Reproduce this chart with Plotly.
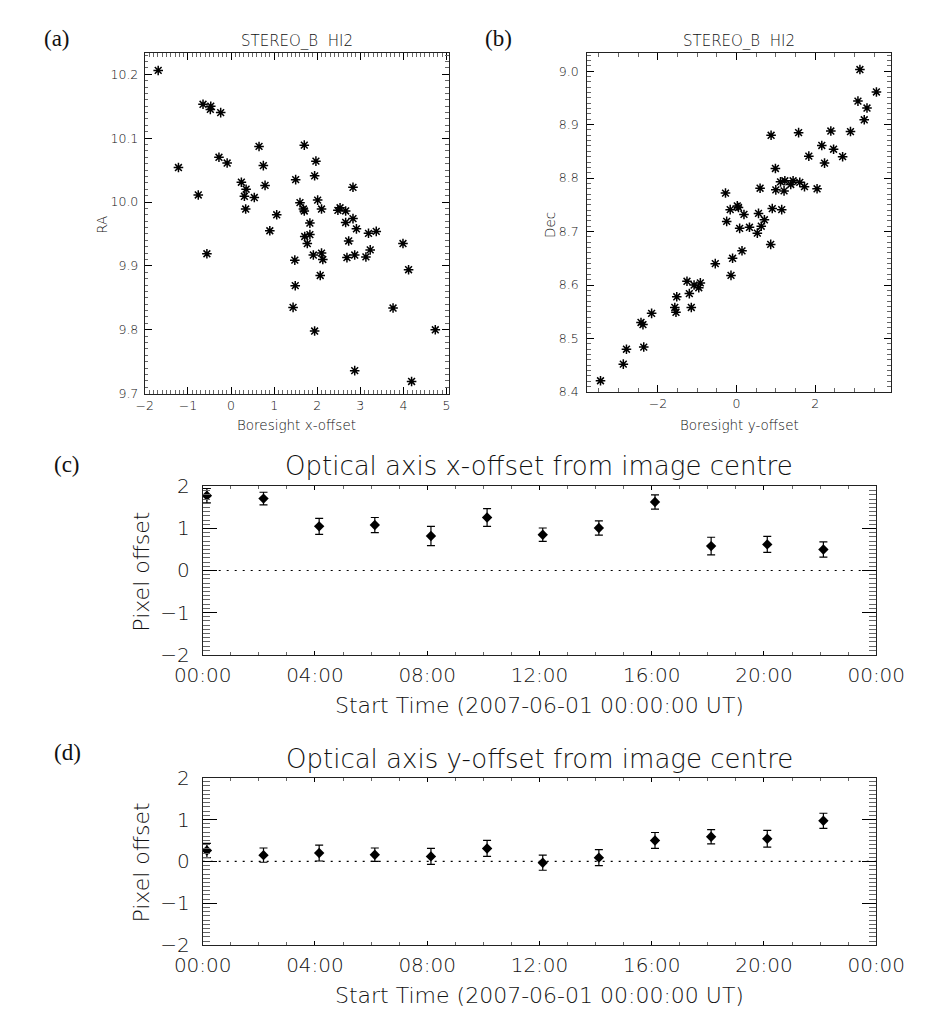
import plotly.graph_objects as go

W, H = 931, 1013

# ---------------- data ----------------
a_x = [-1.69, -0.65, -0.47, -0.48, -0.24, -1.22, -0.76, -0.28, -0.09,
       0.65, 0.75, 0.79, 0.24, 0.35, 0.31, 0.54, 0.34, 1.06, 0.90,
       1.50, 1.70, 1.97, 1.94, 2.83, 1.60, 1.68, 1.70, 2.01, 2.10, 1.83,
       2.48, 2.53, 2.66, 2.66, 2.83, 2.91, 3.19, 3.37, -0.56, 1.71, 1.83,
       1.77, 2.73, 1.91, 2.10, 2.13, 1.48, 2.69, 2.87, 3.13, 3.23,
       3.99, 4.12, 2.07, 1.49, 1.44, 3.76, 1.94, 4.74, 2.87, 4.19]
a_y = [10.206, 10.153, 10.150, 10.145, 10.140, 10.054, 10.011, 10.070, 10.061,
       10.087, 10.057, 10.026, 10.031, 10.020, 10.009, 10.007, 9.989, 9.980, 9.955,
       10.035, 10.089, 10.064, 10.041, 10.023, 9.999, 9.989, 9.986, 10.003, 9.989, 9.967,
       9.987, 9.991, 9.986, 9.968, 9.974, 9.958, 9.951, 9.954, 9.919, 9.946, 9.949,
       9.935, 9.939, 9.917, 9.920, 9.910, 9.909, 9.913, 9.917, 9.914, 9.925,
       9.935, 9.894, 9.885, 9.869, 9.835, 9.834, 9.798, 9.800, 9.736, 9.719]

b_x = [3.14, 3.56, 3.09, 3.32, 3.25, 0.88, 1.58, 2.40, 2.90,
       1.84, 2.47, 2.70, 2.17, 2.24, 0.99, 1.12, 1.23, 1.44,
       1.38, 1.61, 1.73, 1.00, 1.21, 2.05, 0.60, -0.28,
       0.91, 1.15, -0.16, 0.02, 0.05, 0.19, 0.56, 0.71, 0.63, -0.25,
       0.08, 0.33, 0.53, 0.87, 0.14, -0.10, -0.54, -0.14,
       -1.26, -0.92, -1.08, -0.96, -1.20, -1.52, -1.57, -1.15, -1.54, -2.16,
       -2.43, -2.38, -2.36, -2.80, -2.88, -3.46]
b_y = [9.003, 8.961, 8.944, 8.931, 8.909, 8.880, 8.885, 8.888, 8.887,
       8.841, 8.854, 8.840, 8.861, 8.828, 8.818, 8.793, 8.795, 8.795,
       8.788, 8.792, 8.784, 8.778, 8.776, 8.780, 8.781, 8.772,
       8.743, 8.741, 8.741, 8.748, 8.745, 8.732, 8.734, 8.722, 8.710, 8.719,
       8.706, 8.708, 8.697, 8.676, 8.664, 8.650, 8.640, 8.618,
       8.607, 8.604, 8.600, 8.595, 8.584, 8.578, 8.558, 8.558, 8.549, 8.547,
       8.530, 8.526, 8.484, 8.480, 8.452, 8.421]

start_times = ["2007-06-01 00:09", "2007-06-01 02:10", "2007-06-01 04:09",
               "2007-06-01 06:08", "2007-06-01 08:08", "2007-06-01 10:08",
               "2007-06-01 12:07", "2007-06-01 14:07", "2007-06-01 16:07",
               "2007-06-01 18:07", "2007-06-01 20:07", "2007-06-01 22:07"]
x_offset = [1.78, 1.71, 1.05, 1.08, 0.82, 1.26, 0.85, 1.01, 1.63, 0.58, 0.62, 0.50]
x_offset_err = [0.17, 0.15, 0.19, 0.18, 0.23, 0.21, 0.16, 0.17, 0.17, 0.21, 0.19, 0.18]
y_offset = [0.26, 0.15, 0.20, 0.16, 0.12, 0.31, -0.03, 0.09, 0.50, 0.59, 0.54, 0.97]
y_offset_err = [0.17, 0.17, 0.19, 0.16, 0.19, 0.19, 0.18, 0.19, 0.19, 0.17, 0.20, 0.18]

FONT = "DejaVu Sans"
SERIF = "Liberation Serif"
TXT = "#111111"
WEIGHT = 300


def px(x):
    return x / W


def py(y):
    return 1 - y / H


fig = go.Figure()

star = dict(symbol="asterisk-open", size=8, color="black",
            line=dict(color="black", width=1.5))

fig.add_trace(go.Scatter(x=a_x, y=a_y, mode="markers", marker=star,
                         xaxis="x", yaxis="y", showlegend=False))
fig.add_trace(go.Scatter(x=b_x, y=b_y, mode="markers", marker=star,
                         xaxis="x2", yaxis="y2", showlegend=False))

diamond = dict(symbol="diamond", size=8, color="black")
errc = dict(type="data", visible=True, color="black", thickness=1.2, width=4)
fig.add_trace(go.Scatter(x=start_times, y=x_offset, mode="markers", marker=diamond,
                         error_y=dict(array=x_offset_err, **errc),
                         xaxis="x3", yaxis="y3", showlegend=False))
fig.add_trace(go.Scatter(x=start_times, y=y_offset, mode="markers", marker=diamond,
                         error_y=dict(array=y_offset_err, **errc),
                         xaxis="x4", yaxis="y4", showlegend=False))


def ax(domain, rng, dtick, mlen, minor_dtick, minlen, anchor, size, tick0=None,
       standoff=0, **kw):
    d = dict(domain=domain, range=rng, dtick=dtick, ticks="inside", ticklen=mlen,
             tickwidth=1, tickcolor="black", showline=True, linecolor="#222",
             linewidth=1, mirror="allticks", showgrid=False, zeroline=False,
             anchor=anchor,
             tickfont=dict(family=FONT, size=size, color=TXT, weight=WEIGHT),
             ticklabelstandoff=standoff,
             minor=dict(dtick=minor_dtick, ticklen=minlen, ticks="inside",
                        tickcolor="#666", tickwidth=1, showgrid=False))
    if tick0 is not None:
        d["tick0"] = tick0
    d.update(kw)
    return d


# panel (a)
xa = ax([px(115), px(439)], [-2.0, 5.05], 1, 7, 0.1, 3.5, "y", 12.5, tick0=0, standoff=0)
ya = ax([py(382.7), py(34)], [9.7, 10.233], 0.1, 7, 0.01, 3.5, "x", 12.5, tick0=9.7,
        standoff=3, tickformat=".1f")
# panel (b)
xb = ax([px(586.7), px(910.7)], [-3.8, 3.93], 2, 7, 0.5, 3.5, "y2", 12.5, tick0=0, standoff=0)
yb = ax([py(381), py(34.3)], [8.4, 9.033], 0.1, 7, 0.01, 3.5, "x2", 12.5, tick0=8.4,
        standoff=5, tickformat=".1f")
# panel (c)
trange = ["2007-06-01 00:00:00", "2007-06-02 00:00:00"]
xc = ax([px(176.7), px(895)], trange, 4 * 3600 * 1000, 4, 3600 * 1000, 3, "y3", 20,
        tick0="2007-06-01", standoff=2, type="date", tickformat="%H:%M")
yc = ax([py(650), py(477.7)], [-2, 2], 1, 14, 0.1, 7, "x3", 20, tick0=0, standoff=8)
# panel (d)
xd = ax([px(176.7), px(895)], trange, 4 * 3600 * 1000, 4, 3600 * 1000, 3, "y4", 20,
        tick0="2007-06-01", standoff=2, type="date", tickformat="%H:%M")
yd = ax([py(947.7), py(776)], [-2, 2], 1, 14, 0.1, 7, "x4", 20, tick0=0, standoff=8)

shapes = []
for xr, yr in (("x3", "y3"), ("x4", "y4")):
    shapes.append(dict(type="line", xref=xr + " domain", yref=yr, x0=0, x1=1, y0=0, y1=0,
                       line=dict(color="black", width=1.2, dash="2px,6px")))


def ann(text, x, y, size, family=FONT, angle=0, weight=WEIGHT):
    return dict(text=text, x=px(x), y=py(y), xref="paper", yref="paper",
                xanchor="center", yanchor="middle", showarrow=False, textangle=angle,
                font=dict(family=family, size=size, color=TXT, weight=weight))


annotations = [
    ann("(a)", 21, 19, 23, SERIF, weight=400),
    ann("(b)", 492, 19, 23, SERIF, weight=400),
    ann("(c)", 32, 455, 23, SERIF, weight=400),
    ann("(d)", 32, 750, 23, SERIF, weight=400),
    ann("STEREO_B  HI2", 277, 21, 15),
    ann("STEREO_B  HI2", 748.7, 21, 15),
    ann("Boresight x-offset", 277, 415, 13.5),
    ann("Boresight y-offset", 748.7, 415, 13.5),
    ann("RA", 69, 210, 13.5, angle=-90),
    ann("Dec", 547, 210, 13.5, angle=-90),
    ann("Optical axis x-offset from image centre", 535.8, 457, 26),
    ann("Start Time (2007-06-01 00:00:00 UT)", 535.8, 702, 22),
    ann("Pixel offset", 112, 565, 22, angle=-90),
    ann("Optical axis y-offset from image centre", 535.8, 757, 26),
    ann("Start Time (2007-06-01 00:00:00 UT)", 535.8, 999, 22),
    ann("Pixel offset", 112, 863, 22, angle=-90),
]

fig.update_layout(
    width=W, height=H, margin=dict(l=0, r=0, t=0, b=0),
    paper_bgcolor="white", plot_bgcolor="white",
    font=dict(family=FONT, color=TXT),
    xaxis=xa, yaxis=ya, xaxis2=xb, yaxis2=yb,
    xaxis3=xc, yaxis3=yc, xaxis4=xd, yaxis4=yd,
    shapes=shapes, annotations=annotations, showlegend=False,
)

fig.write_html("out.html")
